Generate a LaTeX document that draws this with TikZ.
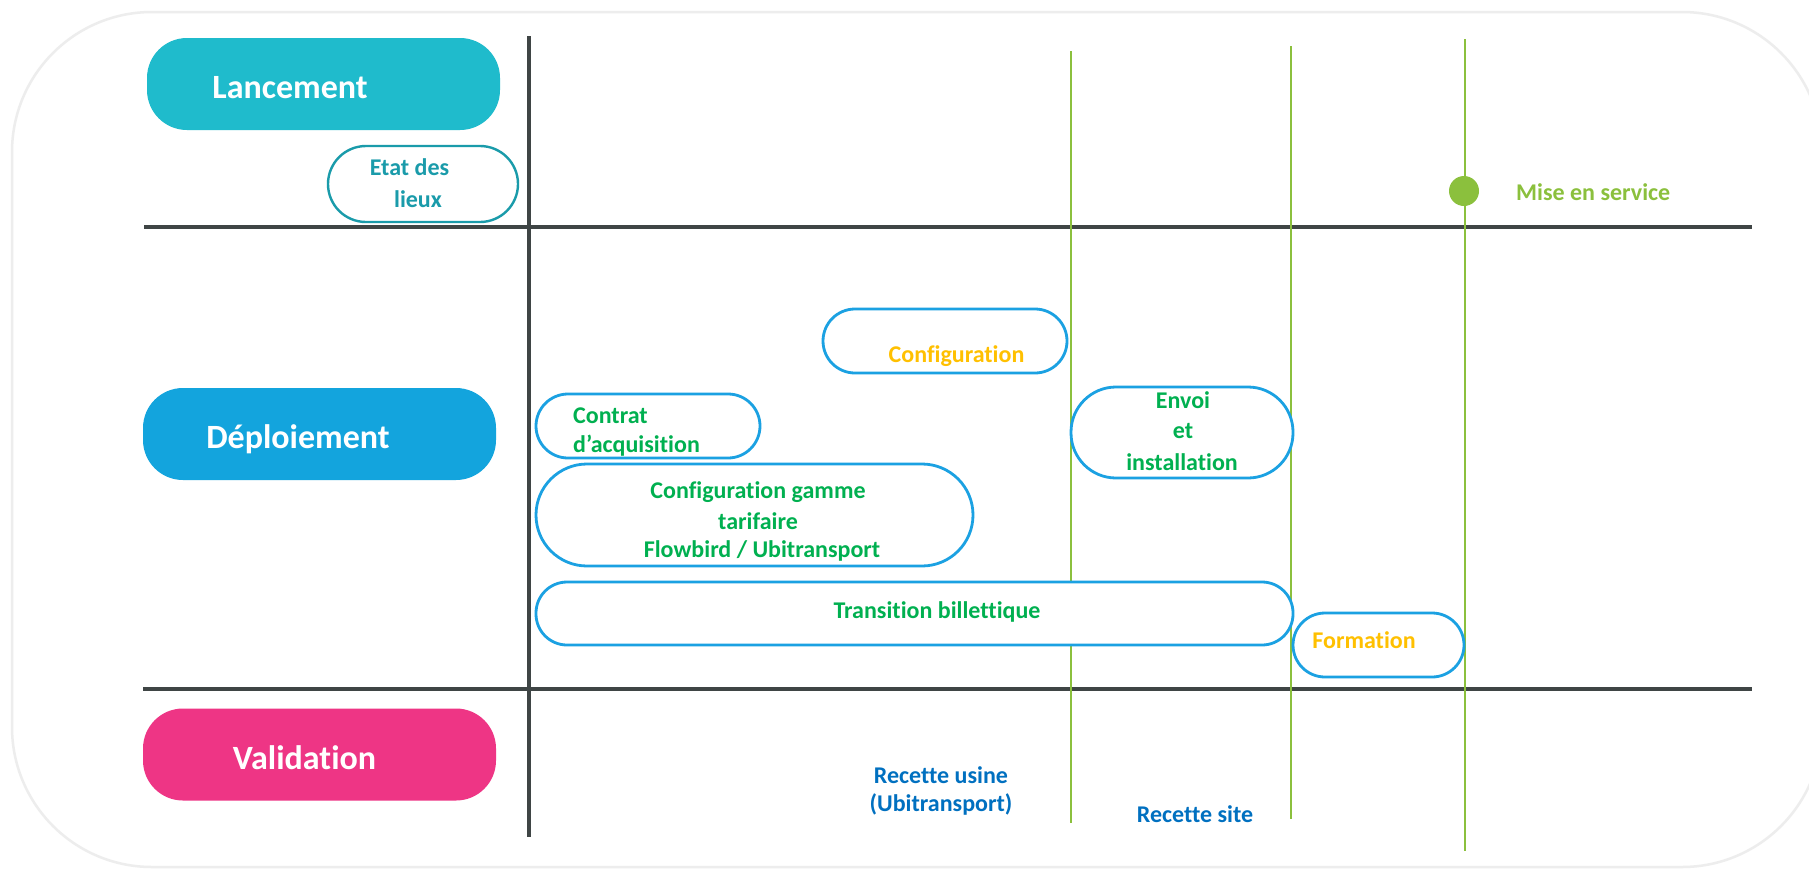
\documentclass[tikz,border=0pt]{standalone}
\usepackage{fontspec}
\setmainfont{Carlito}[Ligatures={NoCommon,NoContextual}]
\definecolor{lanccol}{HTML}{1FBBCC}
\definecolor{deplcol}{HTML}{13A4DD}
\definecolor{valcol}{HTML}{EE3585}
\definecolor{tealcol}{HTML}{1A9BAA}
\definecolor{boxblue}{HTML}{1BA1E2}
\definecolor{txtgreen}{HTML}{00B050}
\definecolor{txtorange}{HTML}{FFC000}
\definecolor{txtblue}{HTML}{0070C0}
\definecolor{mgreen}{HTML}{8BC03D}
\definecolor{darkline}{HTML}{3F4545}
\definecolor{framecol}{HTML}{EDEDED}
\begin{document}
\begin{tikzpicture}[x=1pt,y=-1pt,
  phasebox/.style={draw=none, rounded corners=40pt, minimum width=353pt, minimum height=92pt, inner sep=0pt},
  taskbox/.style={draw=boxblue, line width=2.8pt, fill=white, inner sep=0pt},
  bigtxt/.style={text=white, font=\fontsize{34}{40}\selectfont\bfseries, inner sep=0pt},
  smalltxt/.style={font=\fontsize{24}{29}\selectfont\bfseries, inner sep=0pt},
  gtxt/.style={smalltxt, text=txtgreen},
  otxt/.style={smalltxt, text=txtorange},
  btxt/.style={smalltxt, text=txtblue},
  axisline/.style={draw=darkline, line width=4pt},
  msline/.style={draw=mgreen, line width=2.4pt}
]
\useasboundingbox (0,0) rectangle (1809,873);
\fill[white] (0,0) rectangle (1809,873);
% outer frame
\draw[framecol, line width=2.5pt, rounded corners=140pt] (12,12) rectangle (1822,867);

% axes
\coordinate (vtop) at (529,36);
\coordinate (vbot) at (529,837);
\coordinate (h1l) at (144,227);
\coordinate (h1r) at (1752,227);
\coordinate (h2l) at (143,689);
\coordinate (h2r) at (1752,689);
\draw[axisline] (vtop) -- (vbot);
\draw[axisline] (h1l) -- (h1r);
\draw[axisline] (h2l) -- (h2r);

% milestone lines
\coordinate (m1t) at (1071,51);
\coordinate (m1b) at (1071,823);
\coordinate (m2t) at (1291,46);
\coordinate (m2b) at (1291,819);
\coordinate (m3t) at (1465,39);
\coordinate (m3b) at (1465,851);
\draw[msline] (m1t) -- (m1b);
\draw[msline] (m2t) -- (m2b);
\draw[msline] (m3t) -- (m3b);

% phase pills
\node[phasebox, fill=lanccol] (lanc) at (323.5,84) {};
\node[bigtxt, anchor=base] (lanct) at (290,98) {Lancement};
\node[phasebox, fill=deplcol] (depl) at (319.5,434) {};
\node[bigtxt, anchor=base] (deplt) at (298,448) {Déploiement};
\node[phasebox, fill=valcol] (valid) at (319.5,754.5) {};
\node[bigtxt, anchor=base] (validt) at (304.5,769) {Validation};

% Etat des lieux
\node[draw=tealcol, line width=2.4pt, fill=white, rounded corners=38pt, minimum width=190pt, minimum height=76pt, inner sep=0pt] (etat) at (423,184) {};
\node[smalltxt, text=tealcol, anchor=base] (etat1) at (409.5,175) {Etat des};
\node[smalltxt, text=tealcol, anchor=base] (etat2) at (418,207) {lieux};

% task boxes
\node[taskbox, rounded corners=32pt, minimum width=244pt, minimum height=64pt] (conf) at (945,341) {};
\node[otxt, anchor=base] (conft) at (956.5,362) {Configuration};

\node[taskbox, rounded corners=32pt, minimum width=224pt, minimum height=64pt] (contrat) at (648,426) {};
\node[gtxt, anchor=base west] (contrat1) at (573,423) {Contrat};
\node[gtxt, anchor=base west] (contrat2) at (573,452) {d’acquisition};

\node[taskbox, rounded corners=51pt, minimum width=437pt, minimum height=102pt] (gamme) at (754.5,515) {};
\node[gtxt, anchor=base] (gamme1) at (758,498) {Configuration gamme};
\node[gtxt, anchor=base] (gamme2) at (758,529) {tarifaire};
\node[gtxt, anchor=base] (gamme3) at (762,557) {Flowbird / Ubitransport};

\node[taskbox, rounded corners=45pt, minimum width=222pt, minimum height=91pt] (envoi) at (1182,432.5) {};
\node[gtxt, anchor=base] (envoi1) at (1183,408) {Envoi};
\node[gtxt, anchor=base] (envoi2) at (1183,438) {et};
\node[gtxt, anchor=base] (envoi3) at (1182,470) {installation};

\node[taskbox, rounded corners=31pt, minimum width=757pt, minimum height=63pt] (trans) at (914.5,613.5) {};
\node[gtxt, anchor=base] (transt) at (937,618) {Transition billettique};

\node[taskbox, rounded corners=32pt, minimum width=171pt, minimum height=64pt] (form) at (1378.5,645) {};
\node[otxt, anchor=base] (formt) at (1364,648) {Formation};

% milestone
\node[circle, fill=mgreen, minimum size=30pt, inner sep=0pt] (dot) at (1464,191) {};
\node[smalltxt, text=mgreen, anchor=base west] (mes) at (1516,200) {Mise en service};

% validation texts
\node[btxt, anchor=base] (ru1) at (941,783) {Recette usine};
\node[btxt, anchor=base] (ru2) at (941,811) {(Ubitransport)};
\node[btxt, anchor=base] (rs) at (1195,822) {Recette site};
\end{tikzpicture}
\end{document}
